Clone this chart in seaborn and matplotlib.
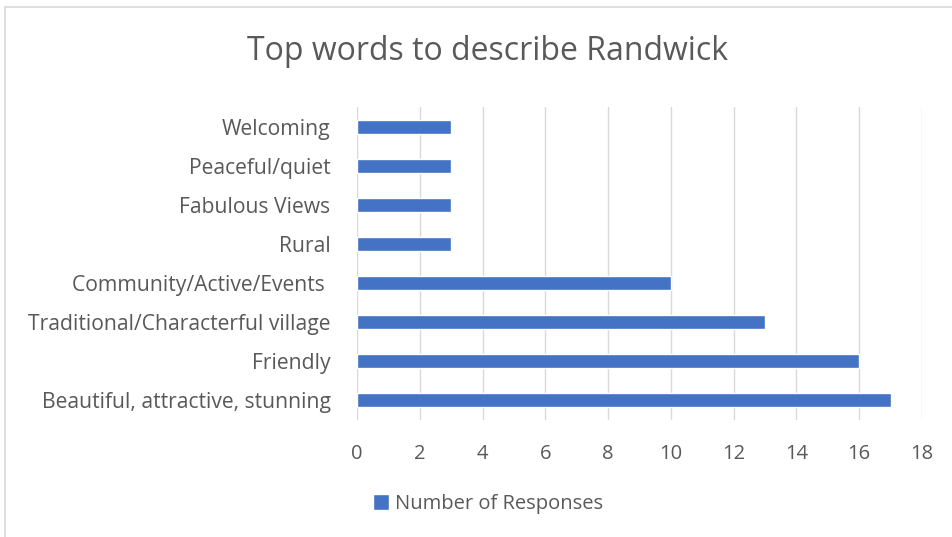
import matplotlib
matplotlib.use("Agg")
import matplotlib.pyplot as plt
import seaborn as sb
import pandas as pd
from matplotlib.patches import Rectangle

# words, top to bottom as in the chart
words = ["Welcoming", "Peaceful/quiet", "Fabulous Views", "Rural",
         "Community/Active/Events ", "Traditional/Characterful village",
         "Friendly", "Beautiful, attractive, stunning"]
responses = [3, 3, 3, 3, 10, 13, 16, 17]
xticks = [0, 2, 4, 6, 8, 10, 12, 14, 16, 18]

df = pd.DataFrame({"word": words, "Number of Responses": responses})

sb.set_style("white")
plt.rcParams['font.family'] = ['Open Sans', 'DejaVu Sans']
grey = '#595959'

fig = plt.figure(figsize=(9.52, 5.37), dpi=100)
ax = fig.add_axes([357/952, 1-420/537, (922-357)/952, (420-107)/537])

sb.barplot(data=df, x="Number of Responses", y="word", order=words,
           color='#4472C4', width=0.36, saturation=1, ax=ax,
           label="Number of Responses")

ax.set_xlim(0, 18)
ax.set_xticks(xticks)
ax.set_ylim(7.5, -0.5)
ax.grid(True, axis='x', color='#d9d9d9', lw=1)
ax.set_axisbelow(True)
for s in ax.spines.values():
    s.set_visible(False)
ax.tick_params(axis='both', length=0, colors=grey)
ax.tick_params(axis='y', pad=19, labelsize=15.2)
ax.tick_params(axis='x', pad=17, labelsize=14.5)
ax.set_xlabel("")
ax.set_ylabel("")

fig.text(0.512, 0.905, "Top words to describe Randwick", ha='center', va='center',
         fontsize=23, color=grey)

leg = ax.legend(loc='center', bbox_to_anchor=(488/952, 1-504/537),
                bbox_transform=fig.transFigure, frameon=False, fontsize=14.5,
                handlelength=0.8, handleheight=0.8, handletextpad=0.25)
for t in leg.get_texts():
    t.set_color(grey)

fig.patches.append(Rectangle((5/952, -0.2), 1.2, 1.2 - 7/537 + 0.0,
                             transform=fig.transFigure, fill=False,
                             edgecolor='#d9d9d9', lw=1.2))

fig.savefig("out.png", dpi=100)
